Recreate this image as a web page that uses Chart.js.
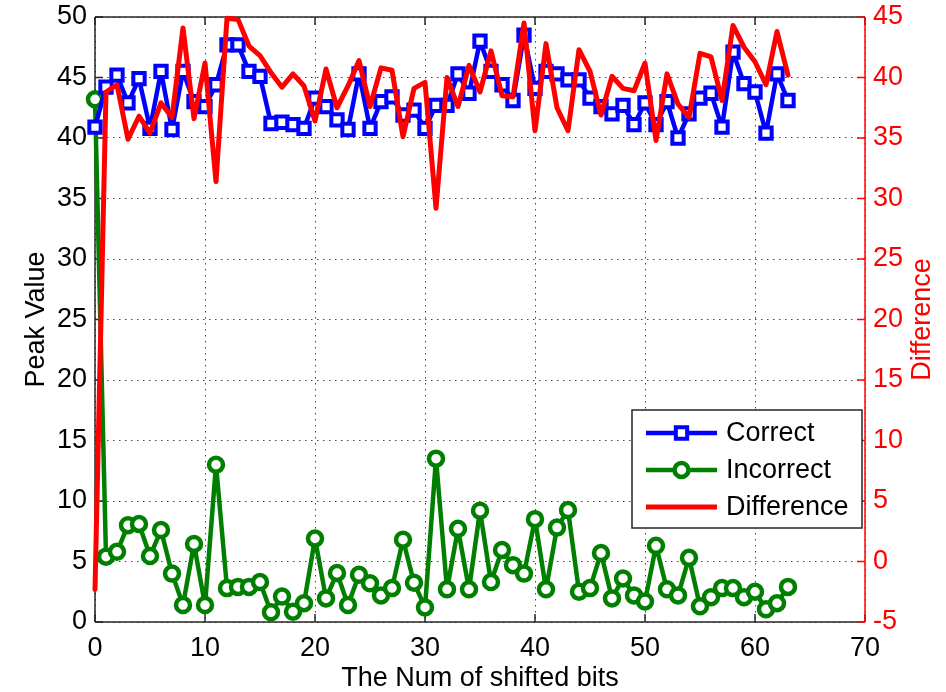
<!DOCTYPE html>
<html>
<head>
<meta charset="utf-8">
<title>Peak Value</title>
<script src="https://cdn.jsdelivr.net/npm/chart.js@4.4.1/dist/chart.umd.min.js"></script>
<style>
  html, body { margin: 0; padding: 0; background: #fff; }
  #wrap { width: 946px; height: 692px; }
</style>
</head>
<body>
<div id="wrap"><canvas id="myChart" width="946" height="692"></canvas></div>
<script>
const gFont = "'Liberation Sans', Arial, Helvetica, sans-serif"

const shiftBits = [
  0, 1, 2, 3, 4, 5, 6, 7, 8, 9, 10, 11, 12, 13, 14, 15,
  16, 17, 18, 19, 20, 21, 22, 23, 24, 25, 26, 27, 28, 29, 30, 31,
  32, 33, 34, 35, 36, 37, 38, 39, 40, 41, 42, 43, 44, 45, 46, 47,
  48, 49, 50, 51, 52, 53, 54, 55, 56, 57, 58, 59, 60, 61, 62, 63
]

const correctPeak = [
  40.9, 44.2, 45.2, 42.9, 44.9, 40.8, 45.5, 40.7, 45.5, 43.0,
  42.6, 44.4, 47.7, 47.7, 45.5, 45.1, 41.2, 41.3, 41.1, 40.8,
  43.3, 42.6, 41.5, 40.7, 45.3, 40.8, 43.0, 43.4, 41.9, 42.3,
  40.8, 42.7, 42.7, 45.3, 43.7, 48.0, 45.5, 44.4, 43.1, 48.5,
  44.1, 45.5, 45.3, 44.8, 44.8, 43.3, 42.6, 42.0, 42.7, 41.1,
  42.9, 41.1, 43.0, 40.0, 42.0, 43.3, 43.7, 40.9, 47.1, 44.5,
  43.8, 40.4, 45.3, 43.1
]

const incorrectPeak = [
  43.2, 5.4, 5.8, 8.0, 8.1, 5.45, 7.6, 4.0, 1.4, 6.45,
  1.4, 13.0, 2.8, 2.9, 2.9, 3.3, 0.8, 2.1, 0.85, 1.55,
  6.9, 1.95, 4.05, 1.4, 3.9, 3.2, 2.2, 2.8, 6.8, 3.25,
  1.2, 13.5, 2.7, 7.7, 2.7, 9.2, 3.3, 5.95, 4.7, 4.0,
  8.5, 2.7, 7.8, 9.25, 2.5, 2.8, 5.7, 1.95, 3.6, 2.2,
  1.7, 6.3, 2.7, 2.2, 5.3, 1.3, 2.05, 2.8, 2.8, 2.05,
  2.5, 1.05, 1.55, 2.9
]

const differenceVal = [
  -2.3, 38.8, 39.4, 34.9, 36.8, 35.4, 37.9, 36.7, 44.1, 36.6,
  41.2, 31.4, 44.9, 44.8, 42.6, 41.8, 40.4, 39.2, 40.3, 39.3,
  36.4, 40.7, 37.5, 39.3, 41.4, 37.6, 40.8, 40.6, 35.1, 39.1,
  39.6, 29.2, 40.0, 37.6, 41.0, 38.8, 42.2, 38.5, 38.4, 44.5,
  35.6, 42.8, 37.5, 35.6, 42.3, 40.5, 36.9, 40.1, 39.1, 38.9,
  41.2, 34.8, 40.3, 37.8, 36.7, 42.0, 41.7, 38.1, 44.3, 42.5,
  41.3, 39.4, 43.8, 40.2
]

const xTicks = [0, 10, 20, 30, 40, 50, 60, 70]
const leftTicks = [0, 5, 10, 15, 20, 25, 30, 35, 40, 45, 50]
const rightTicks = [-5, 0, 5, 10, 15, 20, 25, 30, 35, 40, 45]

function toPoints(values) {
  return values.map((v, i) => ({ x: shiftBits[i], y: v }))
}

// box, inward ticks (matlab style) and the rotated right title
const frameAndTicks = {
  id: 'frameAndTicks',
  beforeDatasetsDraw(chart) {
    const { ctx, chartArea: a, scales } = chart
    const tick = 8
    const line = (x1, y1, x2, y2) => {
      ctx.beginPath(); ctx.moveTo(x1, y1); ctx.lineTo(x2, y2); ctx.stroke()
    }
    ctx.save()
    ctx.lineWidth = 1.5
    ctx.strokeStyle = '#262626'
    xTicks.forEach(v => {
      const px = scales.x.getPixelForValue(v)
      line(px, a.bottom, px, a.bottom - tick)
      line(px, a.top, px, a.top + tick)
    })
    leftTicks.forEach(v => {
      const py = scales.y.getPixelForValue(v)
      line(a.left, py, a.left + tick, py)
    })
    line(a.left, a.top, a.right, a.top)
    line(a.left, a.top, a.left, a.bottom)
    line(a.left, a.bottom, a.right, a.bottom)
    ctx.strokeStyle = '#ff0000'
    rightTicks.forEach(v => {
      const py = scales.y2.getPixelForValue(v)
      line(a.right, py, a.right - tick, py)
    })
    line(a.right, a.top, a.right, a.bottom)
    ctx.restore()
  },
  afterDraw(chart) {
    const { ctx, chartArea: a } = chart
    ctx.save()
    ctx.translate(a.right + 58, (a.top + a.bottom) / 2)
    ctx.rotate(-Math.PI / 2)
    ctx.fillStyle = '#ff0000'
    ctx.font = `27px ${gFont}`
    ctx.textAlign = 'center'
    ctx.textBaseline = 'middle'
    ctx.fillText('Difference', 0, 0)
    ctx.restore()
  }
}

// legend box inside the plot, lower right
const boxLegend = {
  id: 'boxLegend',
  afterDraw(chart) {
    const { ctx, chartArea: a } = chart
    const right = a.right - 3
    const left = right - 230
    const top = a.top + 393
    const rowH = 37
    ctx.save()
    ctx.fillStyle = '#fff'
    ctx.fillRect(left, top, right - left, 118)
    ctx.lineWidth = 1.5
    ctx.strokeStyle = '#262626'
    ctx.strokeRect(left, top, right - left, 118)
    chart.data.datasets.forEach((ds, i) => {
      const y = top + 23 + i * rowH
      ctx.strokeStyle = ds.borderColor
      ctx.lineWidth = ds.borderWidth
      ctx.beginPath(); ctx.moveTo(left + 14, y); ctx.lineTo(left + 85, y); ctx.stroke()
      if (ds.pointRadius > 0) {
        ctx.fillStyle = ds.pointBackgroundColor
        ctx.strokeStyle = ds.borderColor
        ctx.lineWidth = ds.pointBorderWidth
        ctx.beginPath()
        if (ds.pointStyle === 'rect') {
          const s = ds.pointRadius * Math.SQRT1_2
          ctx.rect(left + 49.5 - s, y - s, 2 * s, 2 * s)
        } else {
          ctx.arc(left + 49.5, y, ds.pointRadius, 0, Math.PI * 2)
        }
        ctx.fill(); ctx.stroke()
      }
      ctx.fillStyle = '#000'
      ctx.font = `27px ${gFont}`
      ctx.textBaseline = 'middle'
      ctx.textAlign = 'left'
      ctx.fillText(ds.label, left + 94, y + 1)
    })
    ctx.restore()
  }
}

function noVerticalPadding(s) {
  s.paddingTop = 0
  s.paddingBottom = 0
}

function displayChart() {
  const ctx = document.getElementById('myChart').getContext('2d')
  const gridDash = { display: false, dash: [1.5, 4.5] }
  new Chart(ctx, {
    type: 'line',
    data: {
      datasets: [
        {
          label: 'Correct',
          data: toPoints(correctPeak),
          yAxisID: 'y',
          borderColor: '#0000ff',
          borderWidth: 4.5,
          pointStyle: 'rect',
          pointRadius: 8,
          pointBorderWidth: 4,
          pointBackgroundColor: '#ffffff',
          order: 1,
          clip: 12
        },
        {
          label: 'Incorrect',
          data: toPoints(incorrectPeak),
          yAxisID: 'y',
          borderColor: '#007f00',
          borderWidth: 4.5,
          pointStyle: 'circle',
          pointRadius: 7,
          pointBorderWidth: 4.5,
          pointBackgroundColor: '#ffffff',
          order: 2,
          clip: 12
        },
        {
          label: 'Difference',
          data: toPoints(differenceVal),
          yAxisID: 'y2',
          borderColor: '#ff0000',
          borderWidth: 5,
          pointRadius: 0,
          pointBorderWidth: 0,
          pointBackgroundColor: '#ff0000',
          order: 0,
          clip: 12
        }
      ]
    },
    options: {
      responsive: false,
      animation: false,
      devicePixelRatio: 1,
      events: [],
      layout: { padding: { top: 17, left: 0, right: 0, bottom: 0 } },
      elements: { line: { tension: 0, borderJoinStyle: 'round', borderCapStyle: 'round' } },
      scales: {
        x: {
          type: 'linear',
          min: 0,
          max: 70,
          afterFit: s => { s.height = 70; s.paddingLeft = 0; s.paddingRight = 0 },
          afterBuildTicks: s => { s.ticks = xTicks.map(v => ({ value: v })) },
          ticks: { color: '#000', padding: 10, font: { family: gFont, size: 27 } },
          grid: { color: '#444', lineWidth: 1, drawTicks: false },
          border: gridDash,
          title: {
            display: true,
            text: 'The Num of shifted bits',
            color: '#000',
            padding: { top: 0, bottom: -3 },
            font: { family: gFont, size: 27 }
          }
        },
        y: {
          position: 'left',
          min: 0,
          max: 50,
          afterFit: s => { s.width = 95; noVerticalPadding(s) },
          afterBuildTicks: s => { s.ticks = leftTicks.map(v => ({ value: v })) },
          ticks: { color: '#000', padding: 8, font: { family: gFont, size: 27 } },
          grid: { color: '#444', lineWidth: 1, drawTicks: false },
          border: gridDash,
          title: {
            display: true,
            text: 'Peak Value',
            color: '#000',
            padding: { top: 20, bottom: 0 },
            font: { family: gFont, size: 27 }
          }
        },
        y2: {
          position: 'right',
          min: -5,
          max: 45,
          afterFit: s => { s.width = 81; noVerticalPadding(s) },
          afterBuildTicks: s => { s.ticks = rightTicks.map(v => ({ value: v })) },
          ticks: { color: '#ff0000', padding: 8, font: { family: gFont, size: 27 } },
          grid: { display: false, drawTicks: false },
          border: { display: false }
        }
      },
      plugins: {
        legend: { display: false },
        tooltip: { enabled: false }
      }
    },
    plugins: [frameAndTicks, boxLegend]
  })
}

displayChart()
</script>
</body>
</html>
